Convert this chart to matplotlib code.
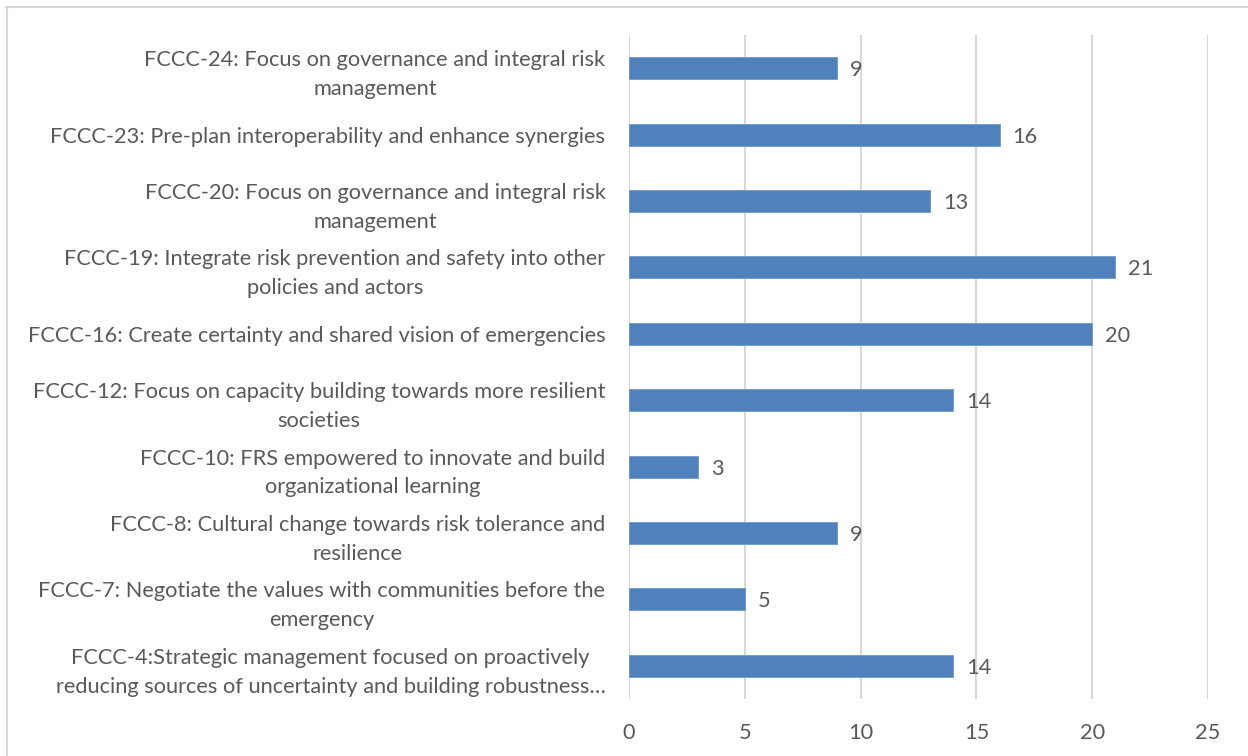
import matplotlib.pyplot as plt
from matplotlib.lines import Line2D

categories = [
    "FCCC-24: Focus on governance and integral risk\nmanagement",
    "FCCC-23: Pre-plan interoperability and enhance synergies",
    "FCCC-20: Focus on governance and integral risk\nmanagement",
    "FCCC-19: Integrate risk prevention and safety into other\npolicies and actors",
    "FCCC-16: Create certainty and shared vision of emergencies",
    "FCCC-12: Focus on capacity building towards more resilient\nsocieties",
    "FCCC-10: FRS empowered to innovate and build\norganizational learning",
    "FCCC-8: Cultural change towards risk tolerance and\nresilience",
    "FCCC-7: Negotiate the values with communities before the\nemergency",
    "FCCC-4:Strategic management focused on proactively\nreducing sources of uncertainty and building robustness\u2026",
]
values = [9, 16, 13, 21, 20, 14, 3, 9, 5, 14]
xticks = [0, 5, 10, 15, 20, 25]

plt.rcParams['font.family'] = ['Lato', 'DejaVu Sans']
text_color = '#595959'
bar_color = '#4F81BD'
grid_color = '#D9D9D9'
fs = 15.7

fig = plt.figure(figsize=(12.48, 7.56), dpi=100)
ax = fig.add_axes([0.504, 0.0754, 0.464, 0.8783])

pos = list(range(len(categories)))
ax.barh(pos, values, height=0.33, color=bar_color, edgecolor='#6E98CB',
        linewidth=0.6, zorder=3)
for p, v in zip(pos, values):
    ax.text(v + 0.55, p + 0.03, str(v), va='center', ha='left', fontsize=fs,
            color=text_color)

ax.set_xlim(0, 25)
ax.set_ylim(len(categories) - 0.5, -0.5)
ax.set_xticks(xticks)
ax.set_xticklabels([str(t) for t in xticks], fontsize=fs, color=text_color)
ax.set_yticks(pos)
ax.set_yticklabels(categories, fontsize=fs, color=text_color,
                   multialignment='center', linespacing=1.55)
ax.tick_params(axis='both', length=0)
ax.tick_params(axis='y', pad=17)
ax.tick_params(axis='x', pad=17)
ax.grid(axis='x', color=grid_color, lw=1.5, zorder=0)
for s in ax.spines.values():
    s.set_visible(False)

# chart-area border (top and left edges only)
fig.add_artist(Line2D([6/1248, 1], [1 - 7/756, 1 - 7/756],
                      transform=fig.transFigure, color='#D9D9D9', lw=1.5))
fig.add_artist(Line2D([7/1248, 7/1248], [0, 1 - 7/756],
                      transform=fig.transFigure, color='#D9D9D9', lw=1.5))

fig.savefig('out.png', dpi=100)
